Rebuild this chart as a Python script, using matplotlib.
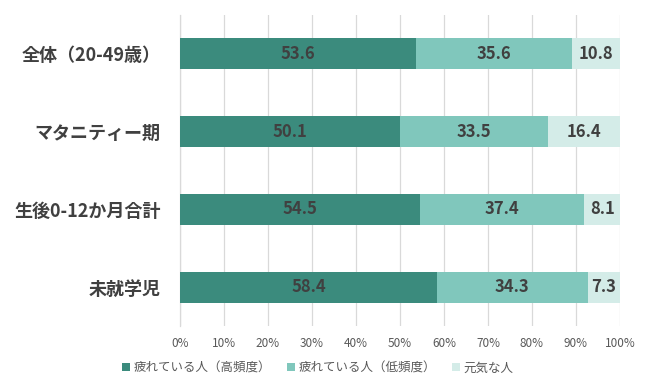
import matplotlib
matplotlib.use("Agg")
import matplotlib.pyplot as plt
import numpy as np

plt.rcParams['font.family'] = ['Noto Sans CJK JP', 'DejaVu Sans']

categories = ["全体（20-49歳）", "マタニティー期", "生後0-12か月合計", "未就学児"]
series_names = ["疲れている人（高頻度）", "疲れている人（低頻度）", "元気な人"]
high = [53.6, 50.1, 54.5, 58.4]
low = [35.6, 33.5, 37.4, 34.3]
genki = [10.8, 16.4, 8.1, 7.3]
xticks = [0, 10, 20, 30, 40, 50, 60, 70, 80, 90, 100]
xticklabels = ["0%", "10%", "20%", "30%", "40%", "50%", "60%", "70%", "80%", "90%", "100%"]

colors = ["#3b8b7d", "#80c7bc", "#d4ece8"]

fig = plt.figure(figsize=(6.5, 3.9), dpi=100)
ax = fig.add_axes([180/650, 1-326/390, 440/650, (326-15)/390])

y = np.arange(len(categories))
left = np.zeros(len(categories))
for vals, name, c in zip([high, low, genki], series_names, colors):
    ax.barh(y, vals, left=left, height=0.4, color=c, label=name, zorder=3)
    for yi, l, v in zip(y, left, vals):
        ax.text(l + v/2, yi, f"{v:.1f}", ha="center", va="center",
                fontsize=12, fontweight="bold", color="#404040", zorder=4)
    left = left + np.array(vals)

ax.set_ylim(3.5, -0.5)
ax.set_xlim(0, 100)
ax.set_yticks(y)
ax.set_yticklabels(categories, fontsize=13, fontweight="bold", color="#404040")
ax.set_xticks(xticks)
ax.set_xticklabels(xticklabels, fontsize=8.5, color="#595959")
ax.tick_params(axis="y", length=0, pad=14)
ax.tick_params(axis="x", length=0, pad=8)
ax.grid(axis="x", color="#d9d9d9", linewidth=0.9, zorder=0)
for s in ["top", "right", "bottom"]:
    ax.spines[s].set_visible(False)
ax.spines["left"].set_color("#d9d9d9")
ax.spines["left"].set_linewidth(0.9)

leg = ax.legend(loc="center", bbox_to_anchor=(318/650, 1-368/390), bbox_transform=fig.transFigure,
                ncol=3, frameon=False,
                fontsize=9, handlelength=0.6, handleheight=0.6, handletextpad=0.3, columnspacing=1.3)
for t in leg.get_texts():
    t.set_color("#595959")

fig.savefig("out.png", dpi=100)
